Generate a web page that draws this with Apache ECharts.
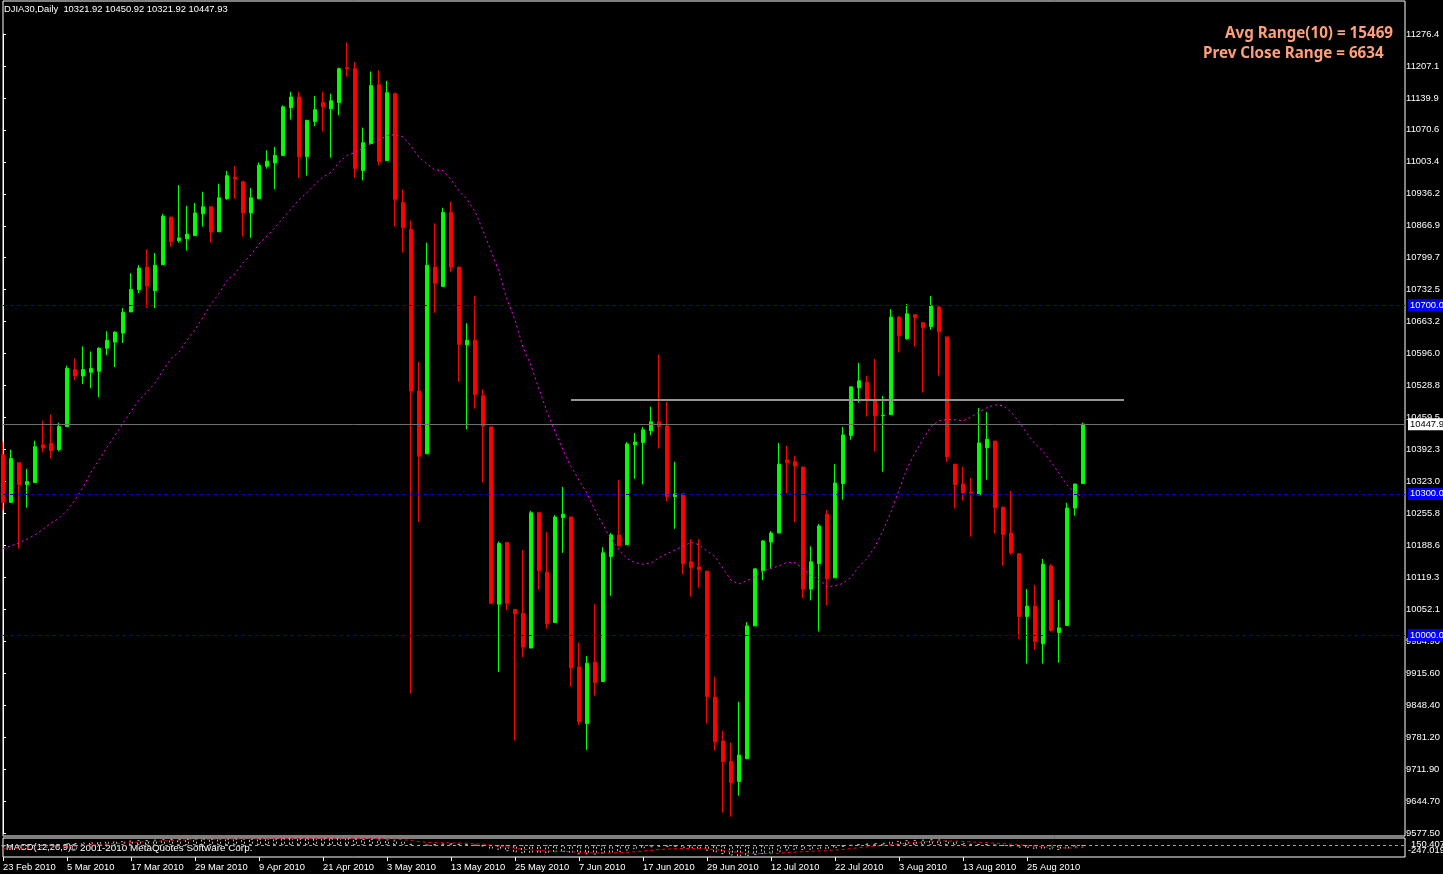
<!DOCTYPE html>
<html><head><meta charset="utf-8">
<script src="https://cdn.jsdelivr.net/npm/echarts@6/dist/echarts.min.js"></script>
<style>html,body{margin:0;padding:0;background:#000;overflow:hidden}#c{width:1443px;height:874px}</style>
</head><body><div id="c"></div>
<script>
const symbolName = 'DJIA30,Daily';
const dateLabels = ['23 Feb 2010','5 Mar 2010','17 Mar 2010','29 Mar 2010','9 Apr 2010','21 Apr 2010','3 May 2010','13 May 2010','25 May 2010','7 Jun 2010','17 Jun 2010','29 Jun 2010','12 Jul 2010','22 Jul 2010','3 Aug 2010','13 Aug 2010','25 Aug 2010'];
const priceTickLabels = ['9577.50','9644.70','9711.90','9781.20','9848.40','9915.60','9984.90','10052.1','10119.3','10188.6','10255.8','10323.0','10392.3','10459.5','10528.8','10596.0','10663.2','10732.5','10799.7','10866.9','10936.2','11003.4','11070.6','11139.9','11207.1','11276.4'];
const opens = [10383,10282,10366,10320,10324,10404,10407,10394,10443,10564,10550,10558,10560,10609,10622,10641,10686,10733,10781,10731,10786,10887,10837,10841,10848,10894,10909,10856,10926,10972,10962,10896,10926,10995,11002,11018,11119,11142,11015,11090,11130,11117,11130,11204,11202,10986,11043,11168,11007,11149,10918,10861,10518,10385,10781,10740,10897,10781,10616,10626,10508,10442,10066,10197,10055,10047,9973,10260,10134,10027,10250,10251,9933,9813,9943,9902,10167,10213,10192,10404,10409,10434,10453,10444,10294,10300,10156,10145,10136,9869,9776,9733,9690,9738,10020,10137,10198,10217,10372,10368,10357,10098,10152,10257,10122,10322,10424,10525,10537,10499,10466,10468,10675,10629,10680,10663,10655,10696,10633,10363,10321,10304,10298,10398,10412,10272,10217,10173,10040,10062,9982,10147,10006,10021,10270,10321.92];
const highs = [10411,10394,10367,10353,10413,10455,10468,10451,10572,10587,10613,10602,10611,10645,10645,10694,10768,10785,10819,10811,10894,10888,10955,10911,10917,10941,10910,10958,10985,10995,10964,10949,11003,11029,11036,11124,11153,11153,11094,11144,11153,11149,11204,11257,11216,11077,11196,11198,11176,11151,10946,10880,10580,10833,10874,10907,10920,10781,10662,10720,10522,10442,10199,10198,10055,10181,10264,10260,10219,10255,10315,10251,9984,9956,10066,10187,10217,10329,10410,10429,10442,10485,10595,10495,10368,10300,10204,10204,10136,9912,9797,9772,9859,10028,10141,10202,10221,10408,10402,10380,10357,10189,10236,10266,10363,10442,10527,10578,10550,10586,10508,10692,10677,10703,10680,10664,10720,10699,10633,10363,10357,10334,10482,10474,10412,10272,10306,10173,10098,10107,10162,10151,10075,10281,10321,10450.92];
const lows = [10266,10281,10184,10271,10324,10388,10375,10390,10443,10541,10533,10524,10505,10594,10569,10620,10686,10726,10694,10694,10786,10824,10833,10816,10848,10867,10833,10856,10924,10926,10846,10843,10925,10990,10946,11018,11094,10971,10975,11080,11069,11013,11103,11185,10971,10965,11043,10997,11007,10867,10812,9877,10241,10385,10684,10740,10771,10538,10437,10481,10324,10068,9922,10054,9777,9954,9973,10097,10014,10027,10175,9891,9810,9757,9872,9902,10084,10188,10192,10332,10320,10424,10396,10284,10226,10129,10082,10101,9813,9755,9624,9615,9660,9738,10020,10117,10143,10217,10302,10240,10079,10074,10008,10064,10122,10288,10415,10494,10464,10390,10347,10468,10600,10627,10612,10515,10648,10551,10368,10269,10286,10209,10298,10330,10216,10148,10171,9993,9940,9970,9940,10008,9942,10021,10254,10321.92];
const closes = [10282,10375,10320,10326,10400,10398,10392,10443,10566,10550,10564,10566,10609,10626,10643,10685,10734,10779,10741,10785,10889,10835,10843,10851,10896,10909,10856,10928,10975,10968,10896,10928,10997,11006,11018,11121,11142,11015,11092,11115,11121,11134,11202,11202,10990,11045,11166,11005,11151,10925,10865,10518,10380,10785,10747,10897,10781,10617,10626,10511,10444,10068,10195,10068,10046,9975,10260,10137,10025,10251,10257,9931,9817,9941,9900,10175,10213,10190,10406,10410,10436,10453,10443,10294,10300,10152,10144,10139,9870,9774,9732,9687,9746,10020,10141,10200,10217,10363,10366,10359,10098,10156,10232,10120,10323,10425,10527,10540,10498,10466,10467,10675,10636,10682,10674,10653,10699,10644,10379,10320,10303,10302,10408,10416,10271,10214,10175,10040,10062,9987,10151,10010,10016,10270,10321,10447.93];
const maValues = [10184,10190,10196,10204,10213,10225,10238,10248,10265,10287,10314,10346,10372,10399,10424,10450,10475,10499,10516,10535,10562,10587,10601,10626,10648,10675,10702,10725,10753,10767,10790,10807,10830,10847,10865,10885,10904,10924,10939,10957,10972,10982,11003,11018,11024,11034,11043,11051,11060,11062,11057,11038,11014,11000,10987,10986,10967,10943,10925,10899,10859,10815,10771,10713,10669,10611,10572,10523,10474,10432,10393,10358,10329,10301,10266,10234,10204,10181,10163,10154,10151,10153,10165,10173,10181,10189,10197,10192,10179,10167,10142,10117,10109,10116,10124,10137,10142,10147,10155,10154,10142,10126,10118,10103,10105,10110,10123,10146,10163,10188,10222,10262,10308,10354,10387,10416,10443,10455,10458,10457,10455,10463,10474,10483,10489,10487,10474,10453,10428,10406,10390,10368,10344,10319,10303,10293];
const macdMain = [-40,-30,-25,-20,-10,0,5,15,35,45,55,60,68,75,80,88,97,105,108,115,125,128,130,132,135,137,135,138,140,140,135,133,138,140,140,147,150,142,143,145,146,146,150,150,135,128,132,120,122,100,75,30,-15,5,15,35,40,30,20,0,-25,-75,-95,-125,-150,-170,-160,-160,-165,-150,-140,-160,-190,-190,-195,-175,-155,-140,-110,-85,-65,-45,-35,-40,-40,-55,-65,-75,-115,-150,-185,-215,-235,-225,-205,-185,-165,-135,-110,-95,-100,-95,-85,-80,-60,-35,-5,20,35,45,50,75,90,105,110,115,125,120,95,70,50,30,25,20,5,-10,-25,-50,-60,-80,-75,-90,-100,-75,-50,-20];
const macdSignal = [-75,-70,-65,-60,-55,-50,-45,-35,-25,-15,-5,5,15,25,35,45,55,65,75,82,90,98,105,110,115,120,123,126,128,130,131,131,132,133,135,137,140,141,141,142,143,144,145,146,144,141,139,135,132,126,116,99,76,62,53,49,47,44,39,31,20,0,-19,-40,-62,-84,-99,-111,-122,-128,-131,-137,-147,-156,-164,-166,-164,-159,-149,-137,-122,-107,-93,-82,-74,-70,-69,-70,-79,-93,-112,-132,-153,-167,-175,-177,-175,-167,-156,-144,-135,-127,-119,-111,-101,-88,-71,-53,-35,-19,-5,11,27,42,56,68,80,88,89,85,78,69,60,52,43,32,21,7,-7,-21,-32,-44,-55,-59,-57,-50];
const levelLines = [10700, 10300, 10000];
const trendLevel = 10500;
const trendFrom = 71, trendTo = 140.125;
const macdMax = 150.407, macdMin = -247.019;
const infoLines = ['Avg Range(10) = 15469', 'Prev Close Range = 6634'];
const copyrightText = '\u00a9 2001-2010 MetaQuotes Software Corp.';
const macdName = 'MACD(12,26,9)';

const FONT = "'Liberation Sans',sans-serif";
const FS = 9.4;
const n = closes.length;
const last = n - 1;
const candleData = closes.map((c, i) => [i, opens[i], c, lows[i], highs[i]]);
const maData = maValues.map((v, i) => [i, v]);
const histData = macdMain.map((v, i) => [i, v]);
const sigData = macdSignal.map((v, i) => [i, v]);
const dateCats = closes.map((_, i) => (i % 8 === 0 && dateLabels[i / 8]) ? dateLabels[i / 8] : '');
const f2 = v => v.toFixed(2);
const headerText = symbolName + '  ' + f2(opens[last]) + ' ' + f2(highs[last]) + ' ' + f2(lows[last]) + ' ' + f2(closes[last]);

const chart = echarts.init(document.getElementById('c'), null, {renderer: 'canvas'});
const xMax = 175.25;
const option = {
  backgroundColor: '#000000',
  animation: false,
  grid: [
    {left: 3, top: 1, right: 38, height: 835, show: true, borderColor: '#ffffff', borderWidth: 1, backgroundColor: 'transparent'},
    {left: 3, top: 838, right: 38, height: 19, show: true, borderColor: '#ffffff', borderWidth: 1, backgroundColor: 'transparent'},
    {left: 3, top: 34, right: 38, height: 799},
    {left: 3, top: 838, width: 1080, height: 19}
  ],
  xAxis: [
    {gridIndex: 0, type: 'value', min: 0, max: xMax, show: false},
    {gridIndex: 1, type: 'value', min: 0, max: xMax, show: false},
    {gridIndex: 2, type: 'value', min: 0, max: 1, show: false},
    {gridIndex: 3, type: 'category', data: dateCats, boundaryGap: false,
     axisLine: {show: false},
     axisTick: {show: true, interval: 7, length: 4, lineStyle: {color: '#ffffff', width: 1}},
     axisLabel: {show: true, interval: 7, color: '#ffffff', fontFamily: FONT, fontSize: FS, align: 'left', margin: 6},
     splitLine: {show: false}}
  ],
  yAxis: [
    {gridIndex: 0, type: 'value', min: 9574.3, max: 11345.5, show: false, position: 'right', splitLine: {show: false}},
    {gridIndex: 1, type: 'value', min: macdMin, max: macdMax, show: false, splitLine: {show: false}},
    {gridIndex: 2, type: 'category', data: priceTickLabels, boundaryGap: false, position: 'right',
     axisLine: {show: true, lineStyle: {color: '#ffffff', width: 1}},
     axisTick: {show: true, length: 3, lineStyle: {color: '#ffffff'}},
     axisLabel: {show: true, interval: 0, color: '#ffffff', fontFamily: FONT, fontSize: FS, margin: 6},
     splitLine: {show: false}},
    {gridIndex: 3, type: 'value', show: false}
  ],
  series: [
    {
      type: 'candlestick', xAxisIndex: 0, yAxisIndex: 0,
      data: candleData, encode: {x: 0, y: [1, 2, 3, 4]},
      barWidth: 4, clip: true,
      itemStyle: {color: '#00ff00', color0: '#ff0000', borderColor: '#00ff00', borderColor0: '#ff0000', borderWidth: 1},
      markLine: {
        silent: true, symbol: ['none', 'none'], animation: false,
        data: [
          ...levelLines.map(v => ({yAxis: v,
            lineStyle: {color: '#0000b4', type: [4, 3], width: 1},
            label: {show: true, position: 'end', distance: 3, formatter: f2(v), color: '#ffffff', backgroundColor: '#0000ff',
                    fontFamily: FONT, fontSize: FS, padding: [2, 2, 1, 2]}})),
          {yAxis: closes[last],
            lineStyle: {color: '#707070', type: 'solid', width: 1},
            label: {show: true, position: 'end', distance: 3, formatter: f2(closes[last]), color: '#000000', backgroundColor: '#ffffff',
                    fontFamily: FONT, fontSize: FS, padding: [2, 2, 1, 2]}},
          [{coord: [trendFrom, trendLevel], lineStyle: {color: '#959595', width: 2, type: 'solid'}, label: {show: false}},
           {coord: [trendTo, trendLevel]}]
        ]
      }
    },
    {
      type: 'line', xAxisIndex: 0, yAxisIndex: 0, data: maData, symbol: 'none',
      lineStyle: {color: '#ff00ff', width: 1, type: [2, 3]}, z: 3
    },
    {
      type: 'bar', xAxisIndex: 1, yAxisIndex: 1, data: histData, barWidth: 4,
      itemStyle: {color: 'transparent', borderColor: '#c0c0c0', borderWidth: 1, borderType: [2, 2]},
      markLine: {silent: true, symbol: ['none', 'none'], data: [{yAxis: 0}], label: {show: false},
                 lineStyle: {color: '#a0a0a0', type: [3, 3], width: 1}}
    },
    {
      type: 'line', xAxisIndex: 1, yAxisIndex: 1, data: sigData, symbol: 'none',
      lineStyle: {color: '#ff0000', width: 1, type: [3, 3]}
    }
  ],
  graphic: [
    {type: 'text', left: 4, top: 5, style: {text: headerText, fill: '#ffffff', font: FS + 'px ' + FONT}},
    {type: 'text', left: 1225, top: 26, style: {text: infoLines[0], fill: '#ffa07a', font: 'bold 15.2px "Noto Sans"'}},
    {type: 'text', left: 1203, top: 46, style: {text: infoLines[1], fill: '#ffa07a', font: 'bold 15.2px "Noto Sans"'}},
    {type: 'text', left: 6, top: 843, style: {text: macdName, fill: '#ffffff', font: FS + 'px ' + FONT}},
    {type: 'text', left: 70, top: 843, style: {text: copyrightText, fill: '#ffffff', font: '9.9px ' + FONT}},
    {type: 'text', left: 1411, top: 840, style: {text: macdMax.toFixed(3), fill: '#ffffff', font: FS + 'px ' + FONT}},
    {type: 'text', left: 1408, top: 846, style: {text: macdMin.toFixed(3), fill: '#ffffff', font: FS + 'px ' + FONT}}
  ]
};
chart.setOption(option);
</script>
</body></html>
